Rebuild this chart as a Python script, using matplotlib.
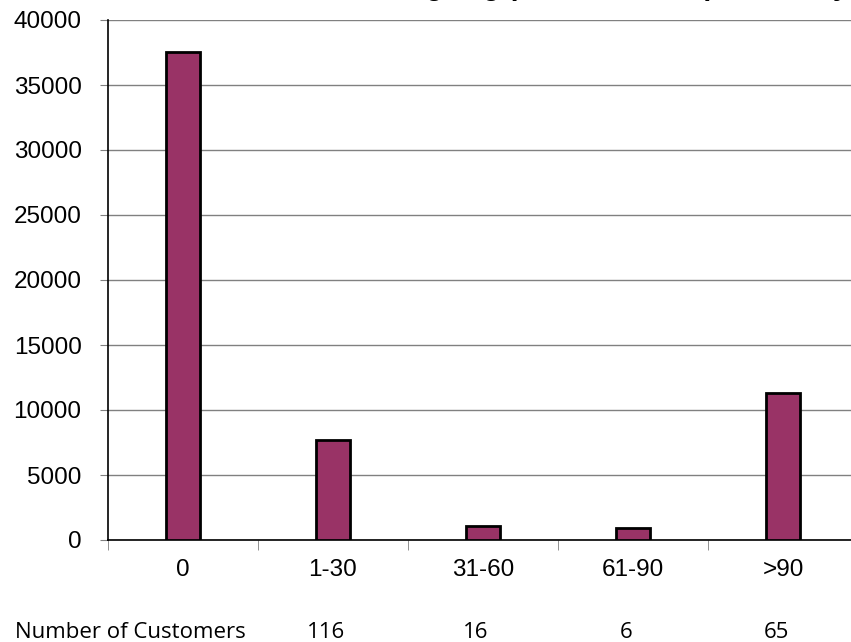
import matplotlib.pyplot as plt

categories = ["0", "1-30", "31-60", "61-90", ">90"]
amounts = [37500, 7730, 1060, 900, 11300]
customers = [116, 16, 6, 65]

fig = plt.figure(figsize=(8.51, 6.42), dpi=100)
# plot area runs past the right edge of the picture, as in the original
ax = fig.add_axes([108 / 851, 102 / 642, 750 / 851, 520 / 642])

x = range(len(categories))
ax.bar(x, amounts, width=0.23, color="#993366", edgecolor="black", linewidth=2.0, zorder=3)

ax.set_xlim(-0.5, len(categories) - 0.5)
ax.set_ylim(0, 40000)
ax.set_yticks(range(0, 40001, 5000))
ax.tick_params(axis="y", labelsize=17.5, length=6, color="#808080", pad=13)
ax.set_xticks(x)
ax.set_xticklabels(categories, fontsize=17.5)
ax.tick_params(axis="x", length=0, pad=14)
ax.set_xticks([i + 0.5 for i in range(-1, len(categories))], minor=True)
ax.tick_params(axis="x", which="minor", length=7, color="#808080")
for lab in ax.get_xticklabels() + ax.get_yticklabels():
    lab.set_fontfamily("Liberation Sans")

ax.grid(axis="y", color="#808080", linewidth=1.0, zorder=0)
for s in ["top", "right"]:
    ax.spines[s].set_visible(False)
ax.spines["left"].set_linewidth(1.2)
ax.spines["bottom"].set_linewidth(1.2)

# customers row under the chart
row_y = 4 / 642
fig.text(15 / 851, row_y, "Number of Customers", fontsize=16,
         family="Open Sans", va="baseline", ha="left")
for i, n in enumerate(customers):
    xf = (108 + 150 * (i + 1) + 68) / 851
    fig.text(xf, row_y, str(n), fontsize=16, family="Open Sans",
             va="baseline", ha="center")

# title sits mostly above the picture edge, only descenders show
fig.text(848 / 851, 1.0 + 5 / 642, "Receivables Ageing (Amount in Rs.) Summary",
         fontsize=20, fontweight="bold", family="Liberation Sans",
         ha="right", va="baseline")

fig.savefig("out.png", dpi=100)
